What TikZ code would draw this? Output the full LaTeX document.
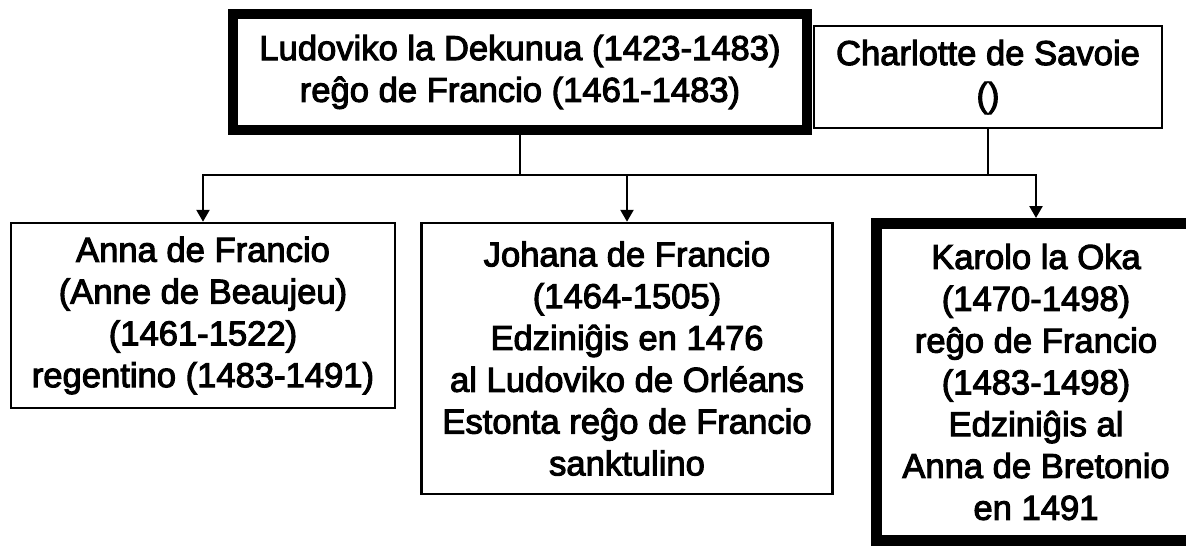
\documentclass[tikz,border=0pt]{standalone}
\usepackage{fontspec}
\setmainfont[FakeBold=3]{Liberation Sans}
\usetikzlibrary{arrows.meta}
\tikzset{
  person/.style={draw=black, line width=2.5pt, fill=white, rectangle, inner sep=0pt, align=center,
    font=\fontsize{34.6}{41.8}\selectfont},
  ruler/.style={person, line width=10.5pt},
  conn/.style={draw=black, line width=2.5pt},
  arr/.style={conn, -{Triangle[width=13pt,length=12pt]}}
}
\begin{document}
\begin{tikzpicture}[x=1pt,y=-1pt]
\useasboundingbox[fill=white] (0,0) rectangle (1186,546);
\node[ruler, minimum width=574pt, minimum height=116pt] (lud) at (520,72)
  {Ludoviko la Dekunua (1423-1483)\\reĝo de Francio (1461-1483)};
\node[person, minimum width=348pt, minimum height=102pt] (cha) at (988,77)
  {Charlotte de Savoie\\()};
\node[person, minimum width=384pt, minimum height=185pt] (anna) at (203,315.5)
  {Anna de Francio\\(Anne de Beaujeu)\\(1461-1522)\\regentino (1483-1491)};
\node[person, minimum width=411pt, minimum height=271pt] (joh) at (627,358.5)
  {Johana de Francio\\(1464-1505)\\Edziniĝis en 1476\\al Ludoviko de Orléans\\Estonta reĝo de Francio\\sanktulino};
\node[ruler, line width=11pt, minimum width=319pt, minimum height=317pt] (kar) at (1036,382)
  {Karolo la Oka\\(1470-1498)\\reĝo de Francio\\(1483-1498)\\Edziniĝis al\\Anna de Bretonio\\en 1491};
\coordinate (jl) at (203,175);
\coordinate (jr) at (1036,175);
\draw[conn] (lud.south) -- (lud.south |- jl);
\draw[conn] (cha.south) -- (cha.south |- jl);
\draw[conn, line cap=rect] (jl) -- (jr);
\draw[arr] (jl) -- (anna.north);
\draw[arr] (jl -| joh.north) -- (joh.north);
\draw[arr] (jr) -- (kar.north);
\end{tikzpicture}
\end{document}
